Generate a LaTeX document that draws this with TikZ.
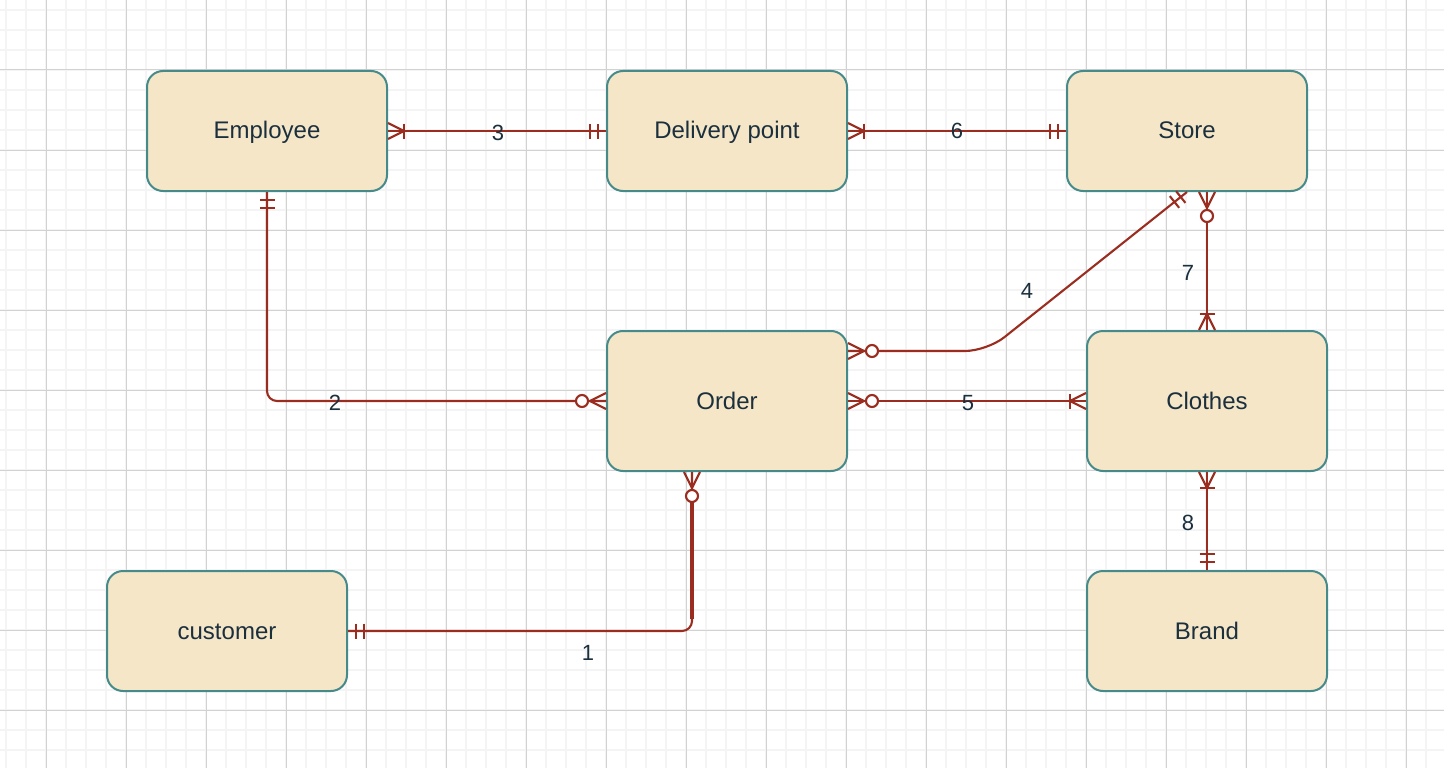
\documentclass[tikz,border=0pt]{standalone}
\usepackage{fontspec}
\setmainfont{Liberation Sans}
\usetikzlibrary{calc}
\definecolor{boxfill}{HTML}{F5E6C8}
\definecolor{boxline}{HTML}{468A8A}
\definecolor{erred}{HTML}{9B2D20}
\definecolor{txt}{HTML}{1B2F3D}
\definecolor{gminor}{HTML}{F4F4F4}
\definecolor{gmajor}{HTML}{D2D2D2}
\newcommand{\erBar}[3]{\path ($(#1)!#3!(#2)$) coordinate (erb); \draw[erline] ($(erb)!7.5pt!90:(#2)$) -- ($(erb)!7.5pt!-90:(#2)$);}
\newcommand{\erCrow}[2]{\draw[erline] ($(#1)!8pt!90:(#2)$) -- ($(#1)!16pt!(#2)$) -- ($(#1)!8pt!-90:(#2)$);}
\newcommand{\erCirc}[2]{\draw[erline,fill=white] ($(#1)!24pt!(#2)$) circle[radius=6pt];}
\newcommand{\erOne}[2]{\erBar{#1}{#2}{8pt}\erBar{#1}{#2}{16pt}}
\newcommand{\erOneMany}[2]{\erCrow{#1}{#2}\erBar{#1}{#2}{16pt}}
\newcommand{\erZeroMany}[2]{\erCrow{#1}{#2}\erCirc{#1}{#2}}
\tikzset{
  entity/.style={draw=boxline, line width=2pt, fill=boxfill, rounded corners=16pt,
    minimum width=240pt, minimum height=120pt, inner sep=0pt, text=txt,
    text height=20pt, text depth=4pt,
    font=\fontsize{24}{28}\selectfont},
  tall/.style={minimum height=140pt},
  erline/.style={draw=erred, line width=2.1pt},
  elabel/.style={text=txt, inner sep=0pt, font=\fontsize{22}{26}\selectfont},
}
\begin{document}
\begin{tikzpicture}[x=1pt,y=-1pt]
\useasboundingbox (0,0) rectangle (1444,768);
\fill[white] (0,0) rectangle (1444,768);
\foreach \x in {6,26,...,1446} \draw[gminor, line width=1.5pt] (\x,0) -- (\x,768);
\foreach \y in {10,30,...,770} \draw[gminor, line width=1.5pt] (0,\y) -- (1444,\y);
\foreach \x in {46,126,...,1446} \draw[gmajor, line width=1pt] (\x,0) -- (\x,768);
\foreach \y in {70,150,...,770} \draw[gmajor, line width=1pt] (0,\y) -- (1444,\y);

\node[entity] (employee) at (267,131) {Employee};
\node[entity] (delivery) at (727,131) {Delivery point};
\node[entity] (store) at (1187,131) {Store};
\node[entity, tall] (order) at (727,401) {Order};
\node[entity, tall] (clothes) at (1207,401) {Clothes};
\node[entity] (customer) at (227,631) {customer};
\node[entity] (brand) at (1207,631) {Brand};

% helper coordinates
\coordinate (o1) at ([xshift=-35pt]order.south);
\coordinate (c1) at (customer.east -| o1);
\coordinate (c2) at (employee.south |- order.west);
\coordinate (o4) at ([yshift=50pt]order.east);
\coordinate (c4) at (987,351);
\coordinate (s7) at (store.south -| clothes.north);

% edges
\draw[erline, rounded corners=10pt] (customer.east) -- (c1) -- (o1);
\draw[erline, line width=3.6pt] ($(c1)+(0,-12)$) -- ($(o1)+(0,17)$);
\draw[erline, rounded corners=10pt] (employee.south) -- (c2) -- (order.west);
\draw[erline] (employee.east) -- (delivery.west);
\draw[erline, rounded corners=22pt] (o4) -- (c4) -- (store.south);
\draw[erline] (order.east) -- (clothes.west);
\draw[erline] (delivery.east) -- (store.west);
\draw[erline] (s7) -- (clothes.north);
\draw[erline] (clothes.south) -- (brand.north);

% markers
\erOne{customer.east}{c1}
\erZeroMany{o1}{c1}
\erOne{employee.south}{c2}
\erZeroMany{order.west}{c2}
\erOneMany{employee.east}{delivery.west}
\erOne{delivery.west}{employee.east}
\erZeroMany{o4}{c4}
\erOne{store.south}{c4}
\erZeroMany{order.east}{clothes.west}
\erOneMany{clothes.west}{order.east}
\erOneMany{delivery.east}{store.west}
\erOne{store.west}{delivery.east}
\erZeroMany{s7}{clothes.north}
\erOneMany{clothes.north}{s7}
\erOneMany{clothes.south}{brand.north}
\erOne{brand.north}{clothes.south}

% labels
\node[elabel] (l1) at (588,653) {1};
\node[elabel] (l2) at (335,403) {2};
\node[elabel] (l3) at (498,133) {3};
\node[elabel] (l4) at (1027,291) {4};
\node[elabel] (l5) at (968,403) {5};
\node[elabel] (l6) at (957,131) {6};
\node[elabel] (l7) at (1188,273) {7};
\node[elabel] (l8) at (1188,523) {8};
\end{tikzpicture}
\end{document}
